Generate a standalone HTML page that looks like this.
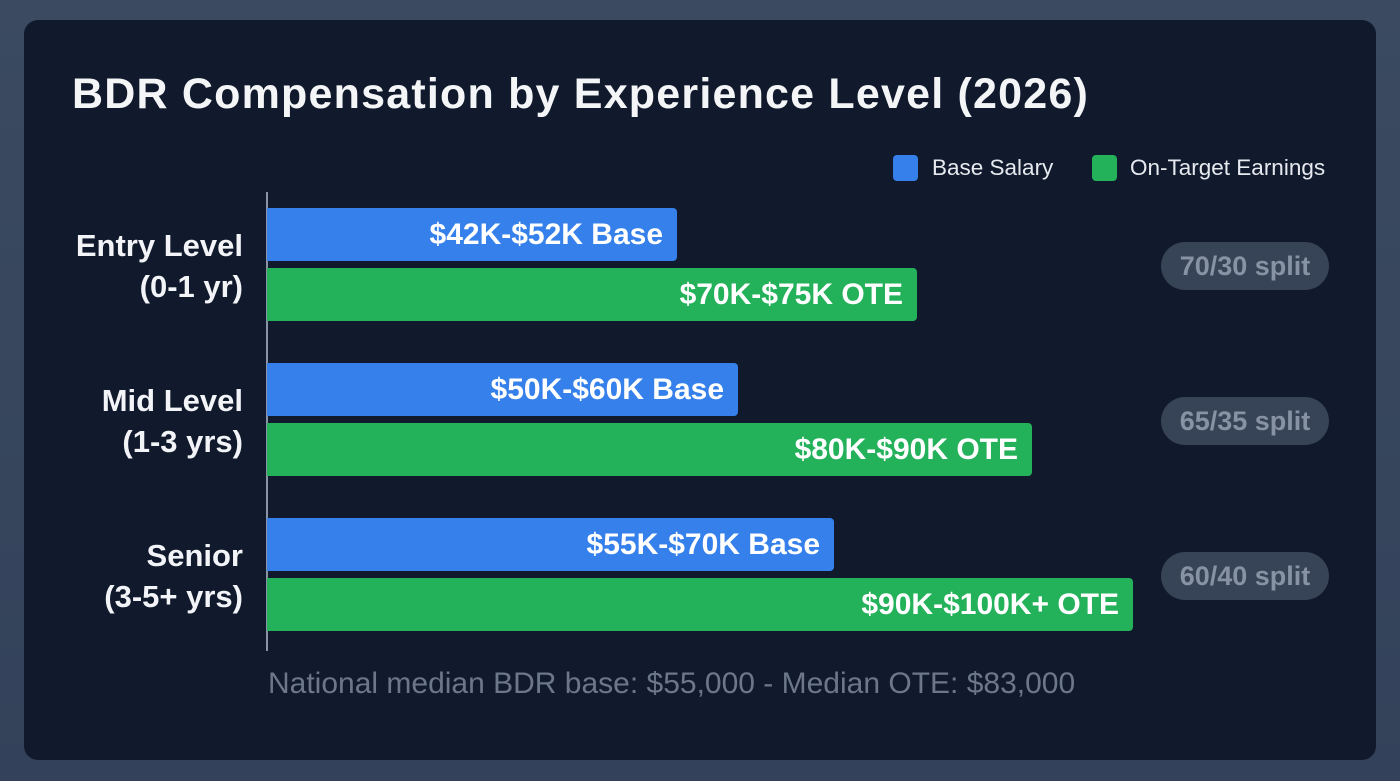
<!DOCTYPE html>
<html><head><meta charset="utf-8"><style>
*{margin:0;padding:0;box-sizing:border-box}
body{width:1400px;height:781px;background:linear-gradient(180deg,#3b4a60,#33425a);font-family:"Liberation Sans",sans-serif;position:relative;overflow:hidden}
.card{position:absolute;left:24px;top:20px;width:1352px;height:740px;background:#111a2d;border-radius:14px}
.a{position:absolute}
.title{left:72px;top:70px;font-size:43px;font-weight:bold;color:#f4f5f7;white-space:nowrap;letter-spacing:1.2px}
.leg{font-size:22.5px;color:#e6e9ee;top:155px;white-space:nowrap}
.sq{width:25px;height:26px;border-radius:4px;top:155px}
.lab{right:1157px;text-align:right;font-size:31px;font-weight:bold;color:#f2f4f7;line-height:41px;white-space:nowrap}
.bar{left:267px;height:53px;border-radius:0 4px 4px 0;color:#fff;font-weight:bold;font-size:30px;text-align:right;padding-right:14px;line-height:53px;white-space:nowrap}
.b{background:#3580ea}.g{background:#23b15a}
.pill{left:1161px;width:168px;height:48px;border-radius:24px;background:#374356;color:#8792a5;font-size:27px;font-weight:bold;text-align:center;line-height:48px}
.axis{left:266px;top:192px;width:2px;height:459px;background:#8a93a3}
.foot{left:268px;top:667px;font-size:30px;color:#6c778a;white-space:nowrap}
</style></head><body>
<div class="card"></div>
<div class="a title">BDR Compensation by Experience Level (2026)</div>
<div class="a sq" style="left:893px;background:#3580ea"></div>
<div class="a leg" style="left:932px">Base Salary</div>
<div class="a sq" style="left:1092px;background:#23b15a"></div>
<div class="a leg" style="left:1130px">On-Target Earnings</div>
<div class="a axis"></div>
<div class="a lab" style="top:225px">Entry Level<br>(0-1 yr)</div>
<div class="a lab" style="top:380px">Mid Level<br>(1-3 yrs)</div>
<div class="a lab" style="top:535px">Senior<br>(3-5+ yrs)</div>
<div class="a bar b" style="top:208px;width:410px">$42K-$52K Base</div>
<div class="a bar g" style="top:268px;width:650px">$70K-$75K OTE</div>
<div class="a bar b" style="top:363px;width:471px">$50K-$60K Base</div>
<div class="a bar g" style="top:423px;width:765px">$80K-$90K OTE</div>
<div class="a bar b" style="top:518px;width:567px">$55K-$70K Base</div>
<div class="a bar g" style="top:578px;width:866px">$90K-$100K+ OTE</div>
<div class="a pill" style="top:242px">70/30 split</div>
<div class="a pill" style="top:397px">65/35 split</div>
<div class="a pill" style="top:552px">60/40 split</div>
<div class="a foot">National median BDR base: $55,000 - Median OTE: $83,000</div>
</body></html>
